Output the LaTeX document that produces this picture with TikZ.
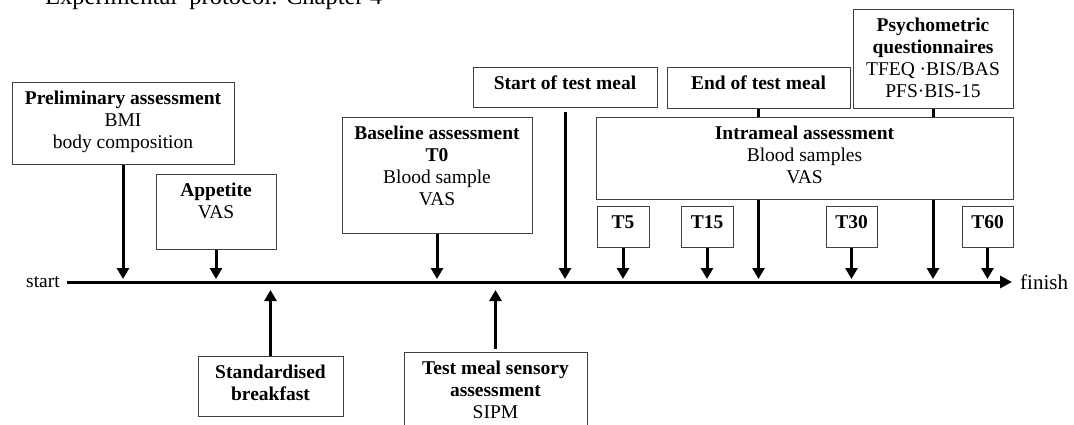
\documentclass[tikz,border=0pt]{standalone}
\usepackage{fontspec}
\setmainfont{Liberation Serif}
\usetikzlibrary{arrows.meta}
% centred lines whose reference point is the first baseline
\newcommand\boxlines[1]{\begin{tabular}[t]{@{}c@{}}#1\end{tabular}}
\begin{document}
\begin{tikzpicture}[x=1pt,y=-1pt,
  box/.style={draw=black!75, line width=0.9pt, fill=white,
    anchor=north, inner xsep=2pt, inner ysep=8pt, text height=14pt,
    font=\fontsize{19.5}{22}\selectfont},
  arr/.style={line width=3pt, -{Triangle[width=12pt,length=11pt]}},
  plain/.style={inner sep=0pt, font=\fontsize{19.5}{22}\selectfont}]
\useasboundingbox (0,0) rectangle (1074,425);

% heading, partly above the page edge
\node[anchor=base west, inner sep=0pt, font=\fontsize{24.5}{28}\selectfont]
  (heading) at (45,4.5) {Experimental\ \ protocol: Chapter 4};

% time axis
\node[plain, anchor=east] (start) at (60,282) {start};
\node[plain, anchor=west, font=\fontsize{21}{24}\selectfont] (finish) at (1020,282) {finish};
\draw[line width=3pt, -{Triangle[width=12pt,length=12pt]}]
  ([xshift=7pt]start.east) -- ([xshift=-8pt]finish.west);
\coordinate (downtip) at (0,279);
\coordinate (uptip) at (0,290);

% events above the axis
\node[box, minimum width=222pt, text depth=52pt] (prelim) at (123,82)
  {\boxlines{\textbf{Preliminary assessment}\\BMI\\body composition}};
\node[box, minimum width=120pt, text depth=45pt] (appetite) at (216,174)
  {\boxlines{\textbf{Appetite}\\VAS}};
\node[box, minimum width=190pt, text depth=86pt] (baseline) at (437,117)
  {\boxlines{\textbf{Baseline assessment}\\\textbf{T0}\\Blood sample\\VAS}};
\node[box, minimum width=184pt, text depth=10pt] (startmeal) at (565,67)
  {\textbf{Start of test meal}};
\node[box, minimum width=183pt, text depth=11pt] (endmeal) at (758.5,67)
  {\textbf{End of test meal}};
\node[box, minimum width=160pt, text depth=69pt] (psych) at (933,9)
  {\boxlines{\textbf{Psychometric}\\\textbf{questionnaires}\\TFEQ ·BIS/BAS\\PFS·BIS-15}};

\draw[arr] (prelim.south) -- (prelim.south |- downtip);
\draw[arr] (appetite.south) -- (appetite.south |- downtip);
\draw[arr] (baseline.south) -- (baseline.south |- downtip);
\draw[arr] ([yshift=-4pt]startmeal.south) -- (startmeal.south |- downtip);
\draw[arr] (endmeal.south) -- (endmeal.south |- downtip);
\draw[arr] (psych.south) -- (psych.south |- downtip);

% intrameal block covers the two long arrows
\node[box, minimum width=417pt, text depth=52pt] (intrameal) at (804.5,117)
  {\boxlines{\textbf{Intrameal assessment}\\Blood samples\\VAS}};

% sampling times
\node[box, minimum width=52pt, text depth=11pt] (t5) at (623,206) {\textbf{T5}};
\node[box, minimum width=52pt, text depth=11pt] (t15) at (707,206) {\textbf{T15}};
\node[box, minimum width=51pt, text depth=11pt] (t30) at (851.5,206) {\textbf{T30}};
\node[box, minimum width=51pt, text depth=11pt] (t60) at (987.5,206) {\textbf{T60}};
\foreach \t in {t5,t15,t30,t60}
  \draw[arr] (\t.south) -- (\t.south |- downtip);

% events below the axis
\node[box, minimum width=145pt, text depth=30pt] (breakfast) at (270.5,356)
  {\boxlines{\textbf{Standardised}\\\textbf{breakfast}}};
\node[box, minimum width=183pt, text depth=70pt] (sensory) at (495.5,352)
  {\boxlines{\textbf{Test meal sensory}\\\textbf{assessment}\\SIPM}};
\draw[arr] (breakfast.north) -- (breakfast.north |- uptip);
\draw[arr] ([yshift=3pt]sensory.north) -- (sensory.north |- uptip);
\end{tikzpicture}
\end{document}
